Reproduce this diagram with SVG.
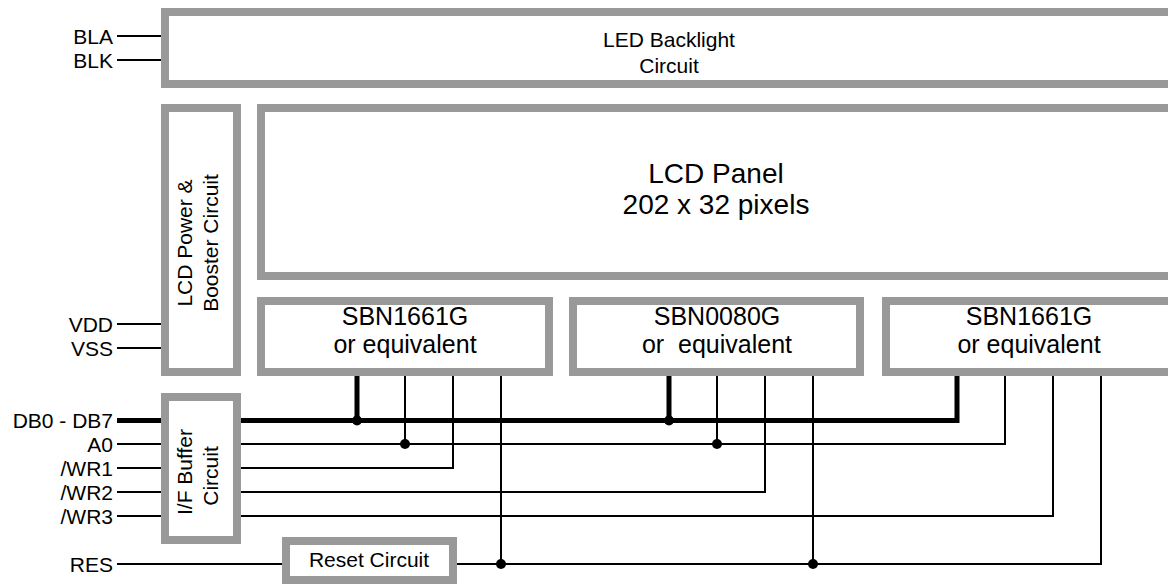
<svg xmlns="http://www.w3.org/2000/svg" width="1168" height="587" viewBox="0 0 1168 587">
<style>
.box{fill:#fff;stroke:#999;stroke-width:8}
.t{font-family:"Liberation Sans",Arial,sans-serif;fill:#000}
.s{font-size:21px}
.c{font-size:25px;text-anchor:middle}
.m{text-anchor:middle}
.e{text-anchor:end}
.w{fill:none;stroke:#000;stroke-width:2}
.b{fill:none;stroke:#000;stroke-width:5}
.d{fill:#000}
</style>
<rect width="1168" height="587" fill="#fff"/>
<g id="connectors">
<path class="w" d="M117 36H161M117 60H161M117 324H161M117 348H161M117 444H161M117 468H161M117 492H161M117 516H161M117 564H282"/>
<path class="b" d="M117 420.5H161M241 420.5H957V376M357 376V420.5M669 376V420.5"/>
<path class="w" d="M241 444H1005V376M405 376V444M717 376V444"/>
<path class="w" d="M241 468H453V376"/>
<path class="w" d="M241 492H765V376"/>
<path class="w" d="M241 516H1053V376"/>
<path class="w" d="M457 564H1101V376M501 376V564M813 376V564"/>
<circle class="d" cx="357" cy="420.5" r="5"/>
<circle class="d" cx="669" cy="420.5" r="5"/>
<circle class="d" cx="405" cy="444" r="5"/>
<circle class="d" cx="717" cy="444" r="5"/>
<circle class="d" cx="501" cy="564" r="5"/>
<circle class="d" cx="813" cy="564" r="5"/>
</g>
<g id="labels" class="t s e">
<text x="113" y="43.5">BLA</text>
<text x="113" y="67.5">BLK</text>
<text x="113" y="331.5">VDD</text>
<text x="113" y="355.5">VSS</text>
<text x="113" y="428">DB0 - DB7</text>
<text x="113" y="451.5">A0</text>
<text x="113" y="475.5">/WR1</text>
<text x="113" y="499.5">/WR2</text>
<text x="113" y="523.5">/WR3</text>
<text x="113" y="571.5">RES</text>
</g>
<g id="backlight">
<rect class="box" x="165" y="12" width="1020" height="72"/>
<text class="t s m" x="669" y="47">LED Backlight</text>
<text class="t s m" x="669" y="73">Circuit</text>
</g>
<g id="power">
<rect class="box" x="165" y="108" width="72" height="264"/>
<text class="t s m" transform="translate(192 243) rotate(-90)">LCD Power &amp;</text>
<text class="t s m" transform="translate(218 243) rotate(-90)">Booster Circuit</text>
</g>
<g id="panel">
<rect class="box" x="261" y="108" width="924" height="168"/>
<text class="t m" style="font-size:28px" x="716" y="182.5">LCD Panel</text>
<text class="t m" style="font-size:28px" x="716" y="214">202 x 32 pixels</text>
</g>
<g id="chip1">
<rect class="box" x="261" y="301" width="288" height="71"/>
<text class="t c" x="405" y="325">SBN1661G</text>
<text class="t c" x="405" y="353">or equivalent</text>
</g>
<g id="chip2">
<rect class="box" x="573" y="301" width="287" height="71"/>
<text class="t c" x="717" y="325">SBN0080G</text>
<text class="t c" x="717" y="353" xml:space="preserve" style="white-space:pre">or  equivalent</text>
</g>
<g id="chip3">
<rect class="box" x="886" y="301" width="300" height="71"/>
<text class="t c" x="1029" y="325">SBN1661G</text>
<text class="t c" x="1029" y="353">or equivalent</text>
</g>
<g id="ifbuffer">
<rect class="box" x="165" y="397" width="72" height="143"/>
<text class="t s m" transform="translate(192 472) rotate(-90)">I/F Buffer</text>
<text class="t s m" transform="translate(218 476) rotate(-90)">Circuit</text>
</g>
<g id="reset">
<rect class="box" x="286" y="541" width="167" height="39"/>
<text class="t s m" x="369" y="567">Reset Circuit</text>
</g>
</svg>
